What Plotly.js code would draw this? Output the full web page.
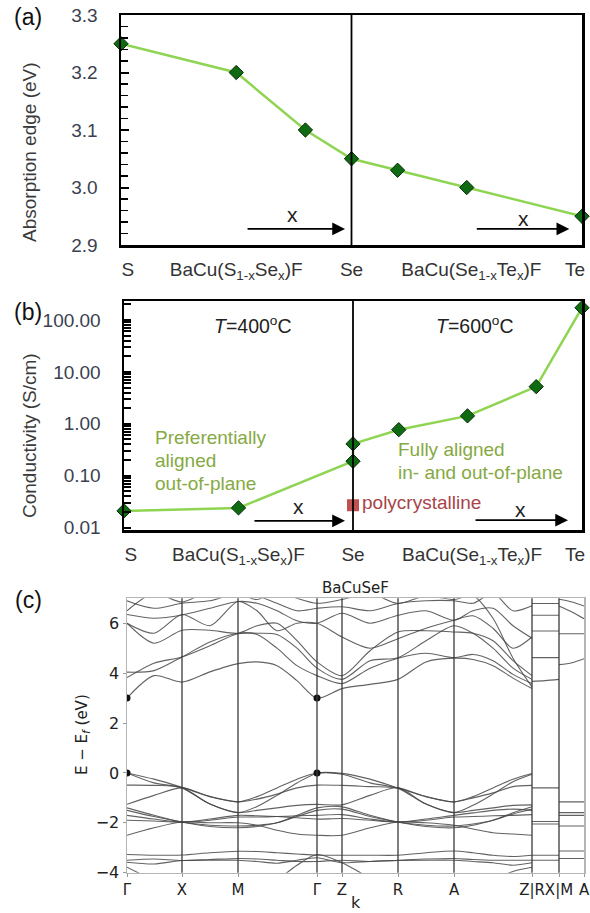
<!DOCTYPE html>
<html><head><meta charset="utf-8">
<script src="https://cdn.plot.ly/plotly-3.0.1.min.js"></script>
<style>body{margin:0;background:#fff;} #chart{width:590px;height:913px;}</style>
</head><body><div id="chart"></div>
<script>
// ---------- Panel (a): absorption edge ----------
const compA = [0, 0.5, 0.8, 1, 1.2, 1.5, 2];
const edgeA = [3.25, 3.20, 3.10, 3.05, 3.03, 3.00, 2.95];
// ---------- Panel (b): conductivity ----------
const compB = [0, 0.5, 1, 1, 1.2, 1.5, 1.8, 2];
const condB = [0.021, 0.024, 0.19, 0.41, 0.77, 1.42, 5.2, 172];
const polyX = [1];
const polyY = [0.027];
// composition axis labels
const compTickPos = [0.03, 0.5, 1.0, 1.52, 1.97];
const compTickText = ['S', 'BaCu(S<sub>1-x</sub>Se<sub>x</sub>)F', 'Se', 'BaCu(Se<sub>1-x</sub>Te<sub>x</sub>)F', 'Te'];
const edgeTicks = [2.9, 3.0, 3.1, 3.2, 3.3];
const condTicks = [0.01, 0.1, 1, 10, 100];
const condTickText = ['0.01', '0.10', '1.00', '10.00', '100.00'];
// ---------- Panel (c): BaCuSeF band structure ----------
const kNodes = [0, 55, 111, 190, 215, 271, 327, 405, 432, 457];
const kLabels = ['Γ', 'X', 'M', 'Γ', 'Z', 'R', 'A', 'Z|R', 'X|M', 'A'];
const kGrid = [0, 27, 55, 83, 111, 130, 150, 170, 190, 215, 243, 271, 299, 327, 346, 366, 386, 405];
const cb1 = [3.00, 3.90, 3.64, 4.05, 4.38, 4.45, 4.30, 3.70, 3.00, 3.38, 3.55, 3.75, 4.45, 4.60, 4.55, 4.30, 3.80, 3.38];
const cb2 = [3.82, 4.40, 4.65, 5.10, 5.58, 5.55, 5.00, 4.30, 3.90, 3.58, 4.20, 4.60, 4.80, 4.62, 4.75, 4.50, 3.95, 3.58];
const cb3 = [4.04, 4.10, 4.65, 5.25, 5.60, 5.60, 5.55, 5.00, 4.20, 3.75, 4.50, 4.62, 5.30, 5.90, 5.60, 5.00, 4.20, 3.75];
const cb4 = [6.00, 5.20, 5.72, 5.72, 5.60, 5.90, 6.00, 5.30, 4.45, 3.90, 4.90, 5.65, 5.70, 5.65, 5.60, 5.30, 4.50, 3.90];
const cb5 = [6.00, 5.60, 6.35, 5.90, 6.87, 6.50, 5.70, 6.00, 6.00, 5.45, 5.00, 5.38, 5.80, 6.12, 6.30, 5.80, 5.00, 5.45];
const cb6 = [6.35, 6.20, 6.33, 6.60, 6.87, 6.80, 6.50, 6.10, 6.00, 6.40, 6.00, 6.32, 6.50, 6.12, 6.50, 6.60, 5.90, 5.40];
const cb7 = [6.90, 6.60, 6.80, 6.90, 7.20, 7.10, 6.80, 6.50, 6.60, 6.66, 6.50, 6.79, 6.90, 6.90, 6.80, 7.20, 6.50, 6.70];
const cb8 = [6.50, 7.20, 6.85, 7.30, 7.20, 6.95, 7.30, 7.00, 6.80, 6.95, 7.20, 6.79, 7.10, 6.95, 7.10, 6.20, 4.60, 3.45];
const vb1 = [0.00, -0.25, -0.58, -0.95, -1.16, -0.95, -0.60, -0.25, 0.00, -0.02, -0.25, -0.60, -0.95, -1.16, -0.95, -0.60, -0.25, -0.02];
const vb2 = [0.00, -0.40, -0.60, -1.25, -1.59, -1.35, -0.90, -0.40, -0.02, -0.05, -0.40, -0.62, -1.25, -1.59, -1.30, -0.85, -0.35, -0.05];
const vb3 = [-1.26, -0.90, -0.60, -0.95, -1.16, -1.05, -0.85, -0.60, -0.49, -0.50, -0.55, -0.60, -0.95, -1.16, -1.00, -0.80, -0.55, -0.50];
const vb4 = [-0.49, -0.50, -0.60, -1.25, -1.59, -1.50, -1.40, -1.30, -1.26, -1.28, -0.90, -0.60, -1.25, -1.59, -1.50, -1.40, -1.30, -1.28];
const vb5 = [-1.40, -1.70, -1.97, -2.10, -2.13, -2.10, -2.00, -1.70, -1.40, -1.36, -1.70, -1.97, -2.10, -2.13, -2.05, -1.90, -1.60, -1.36];
const vb6 = [-1.50, -1.75, -1.97, -2.15, -2.20, -2.15, -2.00, -1.75, -1.50, -1.45, -1.75, -1.97, -2.15, -2.20, -2.10, -1.90, -1.65, -1.45];
const vb7 = [-1.70, -1.85, -1.97, -1.90, -1.77, -1.77, -1.75, -1.72, -1.70, -1.67, -1.85, -1.97, -1.90, -1.77, -1.75, -1.72, -1.70, -1.67];
const vb8 = [-1.90, -1.93, -1.97, -1.85, -1.70, -1.72, -1.75, -1.80, -1.85, -1.83, -1.90, -1.97, -1.85, -1.70, -1.60, -1.50, -1.45, -1.50];
const vb9 = [-2.50, -2.20, -1.97, -2.00, -2.00, -2.10, -2.30, -2.45, -2.50, -2.50, -2.20, -1.97, -2.00, -2.10, -2.25, -2.40, -2.45, -2.50];
const vb10 = [-3.27, -3.30, -3.29, -3.20, -3.14, -3.15, -3.20, -3.25, -3.30, -3.30, -3.30, -3.30, -3.20, -3.13, -3.20, -3.30, -3.35, -3.30];
const vb11 = [-3.50, -3.45, -3.51, -3.47, -3.43, -3.45, -3.50, -3.55, -3.55, -3.50, -3.55, -3.50, -3.45, -3.43, -3.47, -3.50, -3.50, -3.50];
const vb12 = [-3.58, -3.65, -3.51, -3.50, -3.50, -3.55, -3.62, -3.50, -3.40, -3.60, -3.55, -3.51, -3.50, -3.50, -3.55, -3.60, -3.70, -3.60];
const vb13 = [-3.78, -4.30, -4.70, -4.90, -5.00, -4.80, -4.30, -3.70, -3.27, -3.60, -4.20, -4.60, -4.80, -4.90, -4.70, -4.30, -3.95, -3.78];
// R–X segment (k = 405..432) and M–A segment (k = 432..457)
const kRX = [405, 418, 432];
const rx1 = [3.67, 3.70, 3.75], rx2 = [4.62, 4.62, 4.62], rx3 = [5.69, 5.69, 5.69], rx4 = [6.32, 6.32, 6.32], rx5 = [6.79, 6.79, 6.79];
const rx6 = [-0.60, -0.60, -0.60], rx7 = [-1.95, -1.95, -1.95], rx8 = [-2.05, -2.05, -2.05], rx9 = [-3.30, -3.30, -3.30], rx10 = [-3.50, -3.50, -3.50];
const kMA = [432, 445, 457];
const ma1 = [6.96, 6.85, 6.69], ma2 = [6.69, 6.45, 6.18], ma3 = [5.58, 5.58, 5.58], ma4 = [4.34, 4.42, 4.58];
const ma5 = [-1.16, -1.16, -1.16], ma6 = [-1.59, -1.59, -1.59], ma7 = [-1.70, -1.70, -1.70], ma8 = [-2.13, -2.13, -2.13], ma9 = [-3.13, -3.13, -3.13], ma10 = [-3.43, -3.43, -3.43];
const gapDotsK = [0, 0, 190, 190];
const gapDotsE = [3.0, 0.0, 3.0, 0.0];

const W = 590, H = 913;
const px = v => v / W, py = v => 1 - v / H;
const sansA = 'Liberation Sans, Arial, sans-serif';
const dv = 'DejaVu Sans, sans-serif';
const lblCol = '#3b4150';

// tick marks (major + unlabeled minor) for panel (b)
const bTickVals = [], bTickText = [];
condTicks.forEach((d, i) => {
  bTickVals.push(d); bTickText.push(condTickText[i]);
  for (let m = 2; m <= 9; m++) { const v = d * m; if (v < 232) { bTickVals.push(v); bTickText.push(''); } }
});

const traces = [];
traces.push({x: compA, y: edgeA, xaxis: 'x', yaxis: 'y', mode: 'lines+markers',
  line: {color: '#8fd452', width: 2.5},
  marker: {symbol: 'diamond', size: 11, color: '#0f6b12', line: {color: '#0a2a0a', width: 1}},
  cliponaxis: false});
traces.push({x: compB, y: condB, xaxis: 'x2', yaxis: 'y2', mode: 'lines+markers',
  line: {color: '#8fd452', width: 2.5},
  marker: {symbol: 'diamond', size: 11, color: '#0f6b12', line: {color: '#0a2a0a', width: 1}},
  cliponaxis: false});
traces.push({x: polyX, y: polyY, xaxis: 'x2', yaxis: 'y2', mode: 'markers',
  marker: {symbol: 'square', size: 12, color: 'rgba(180,50,50,0.85)'}, cliponaxis: false});

const mainBands = [cb1, cb2, cb3, cb4, cb5, cb6, cb7, cb8, vb1, vb2, vb3, vb4, vb5, vb6, vb7, vb8, vb9, vb10, vb11, vb12, vb13];
const bandLine = {color: 'rgba(70,70,70,0.85)', width: 1.1, shape: 'spline', smoothing: 0.8};
mainBands.forEach(b => traces.push({x: kGrid, y: b, xaxis: 'x3', yaxis: 'y3', mode: 'lines', line: bandLine}));
[rx1, rx2, rx3, rx4, rx5, rx6, rx7, rx8, rx9, rx10].forEach(b => traces.push({x: kRX, y: b, xaxis: 'x3', yaxis: 'y3', mode: 'lines', line: bandLine}));
[ma1, ma2, ma3, ma4, ma5, ma6, ma7, ma8, ma9, ma10].forEach(b => traces.push({x: kMA, y: b, xaxis: 'x3', yaxis: 'y3', mode: 'lines', line: bandLine}));
traces.push({x: gapDotsK, y: gapDotsE, xaxis: 'x3', yaxis: 'y3', mode: 'markers', marker: {color: '#111', size: 7}});

const frameA = {showline: true, mirror: true, linecolor: '#000', linewidth: 2.5, showgrid: false, zeroline: false};

const shapes = [
  {type: 'line', xref: 'x', yref: 'y domain', x0: 1, x1: 1, y0: 0, y1: 1, line: {color: '#000', width: 1.8}},
  {type: 'line', xref: 'x2', yref: 'y2 domain', x0: 1, x1: 1, y0: 0, y1: 1, line: {color: '#000', width: 1.8}}
];
kNodes.slice(1, -1).forEach(k => shapes.push({type: 'line', xref: 'x3', yref: 'y3 domain', x0: k, x1: k, y0: 0, y1: 1, line: {color: '#3a3a3a', width: 1.3}}));

const ann = [];
const addTxt = (t, x, y, opt) => ann.push(Object.assign({text: t, x: px(x), y: py(y), xref: 'paper', yref: 'paper',
  xanchor: 'center', yanchor: 'middle', showarrow: false}, opt || {}));
const green = '#86a943';
addTxt('(a)', 28, 17, {font: {family: sansA, size: 23, color: '#111'}});
addTxt('(b)', 28, 312, {font: {family: sansA, size: 23, color: '#111'}});
addTxt('(c)', 28, 600, {font: {family: sansA, size: 23, color: '#111'}});
addTxt('Absorption edge (eV)', 29, 152, {textangle: -90, font: {family: sansA, size: 19, color: '#3a3a3a'}});
addTxt('Conductivity (S/cm)', 29, 436, {textangle: -90, font: {family: sansA, size: 19, color: '#3a3a3a'}});
addTxt('<i>T</i>=400<sup>o</sup>C', 253, 325, {font: {family: sansA, size: 19.5, color: '#222'}});
addTxt('<i>T</i>=600<sup>o</sup>C', 475, 325, {font: {family: sansA, size: 19.5, color: '#222'}});
addTxt('Preferentially', 153, 437, {xanchor: 'left', font: {family: sansA, size: 19, color: green}});
addTxt('aligned', 153, 460, {xanchor: 'left', font: {family: sansA, size: 19, color: green}});
addTxt('out-of-plane', 153, 483, {xanchor: 'left', font: {family: sansA, size: 19, color: green}});
addTxt('Fully aligned', 396, 449, {xanchor: 'left', font: {family: sansA, size: 19, color: green}});
addTxt('in- and out-of-plane', 396, 472, {xanchor: 'left', font: {family: sansA, size: 19, color: green}});
addTxt('polycrystalline', 360, 502, {xanchor: 'left', font: {family: sansA, size: 19, color: '#a8444a'}});
addTxt('x', 292, 215, {font: {family: sansA, size: 21, color: '#222'}});
addTxt('x', 523, 218, {font: {family: sansA, size: 21, color: '#222'}});
addTxt('x', 298, 506, {font: {family: sansA, size: 21, color: '#222'}});
addTxt('x', 520, 509, {font: {family: sansA, size: 21, color: '#222'}});
addTxt('BaCuSeF', 355.5, 588, {font: {family: dv, size: 15, color: '#222'}});
addTxt('k', 355.5, 902, {font: {family: dv, size: 16, color: '#222'}});
addTxt('E − E<sub><i>f</i></sub> (eV)', 82, 735, {textangle: -90, font: {family: dv, size: 15, color: '#222'}});
// composition arrows (pixel offsets for the tails)
const arrow = (x, y, xr, yr, ax) => ann.push({x: x, y: y, xref: xr, yref: yr, ax: ax, ay: 0, axref: 'pixel', ayref: 'pixel',
  text: '', showarrow: true, arrowhead: 2, arrowsize: 1.6, arrowwidth: 1.6, arrowcolor: '#000'});
arrow(0.972, 2.928, 'x', 'y', -99);
arrow(1.945, 2.928, 'x', 'y', -94);
arrow(0.965, 0.04, 'x2', 'y2 domain', -92);
arrow(1.939, 0.043, 'x2', 'y2 domain', -94);

const layout = {
  width: W, height: H, margin: {l: 0, r: 0, t: 0, b: 0}, showlegend: false,
  paper_bgcolor: '#fff', plot_bgcolor: '#fff', font: {family: sansA},
  xaxis: Object.assign({}, frameA, {domain: [px(121), px(582)], range: [0, 2], anchor: 'y',
    tickmode: 'array', tickvals: compTickPos, ticktext: compTickText, ticks: '',
    tickfont: {family: sansA, size: 19, color: '#333'}, ticklabelstandoff: 6}),
  yaxis: Object.assign({}, frameA, {domain: [py(245), py(15)], range: [2.9, 3.3], anchor: 'x',
    tickmode: 'linear', tick0: edgeTicks[0], dtick: 0.1, tickformat: '.1f',
    ticks: 'inside', ticklen: 8, tickwidth: 2, tickcolor: '#000',
    minor: {ticks: 'inside', ticklen: 7, tickwidth: 1.5, tickcolor: '#000', dtick: 0.02},
    tickfont: {family: sansA, size: 19, color: lblCol}, ticklabelstandoff: 17}),
  xaxis2: Object.assign({}, frameA, {domain: [px(124), px(582)], range: [0, 2], anchor: 'y2',
    tickmode: 'array', tickvals: compTickPos, ticktext: compTickText, ticks: '',
    tickfont: {family: sansA, size: 19, color: '#333'}, ticklabelstandoff: 6}),
  yaxis2: Object.assign({}, frameA, {domain: [py(530), py(301)], type: 'log', range: [Math.log10(0.009), Math.log10(232)], anchor: 'x2',
    tickmode: 'array', tickvals: bTickVals, ticktext: bTickText, ticks: 'inside', ticklen: 7, tickwidth: 2, tickcolor: '#000',
    tickfont: {family: sansA, size: 19, color: lblCol}, ticklabelstandoff: 17}),
  xaxis3: {domain: [px(127), px(584)], range: [0, 457], anchor: 'y3', showline: true, mirror: true, linecolor: '#b5b5b5', linewidth: 1.5,
    showgrid: false, zeroline: false, tickmode: 'array', tickvals: kNodes, ticktext: kLabels, tickangle: 0, ticks: 'outside', ticklen: 3, tickcolor: '#999',
    tickfont: {family: dv, size: 15, color: '#222'}},
  yaxis3: {domain: [py(872.7), py(598.3)], range: [-4, 7], anchor: 'x3', showline: true, mirror: true, linecolor: '#b5b5b5', linewidth: 1.5,
    showgrid: false, zeroline: false, tickvals: [-4, -2, 0, 2, 4, 6], ticks: 'outside', ticklen: 3, tickcolor: '#999',
    tickfont: {family: dv, size: 16, color: '#222'}},
  shapes: shapes, annotations: ann
};
Plotly.newPlot('chart', traces, layout, {displayModeBar: false, staticPlot: true});
</script></body></html>
